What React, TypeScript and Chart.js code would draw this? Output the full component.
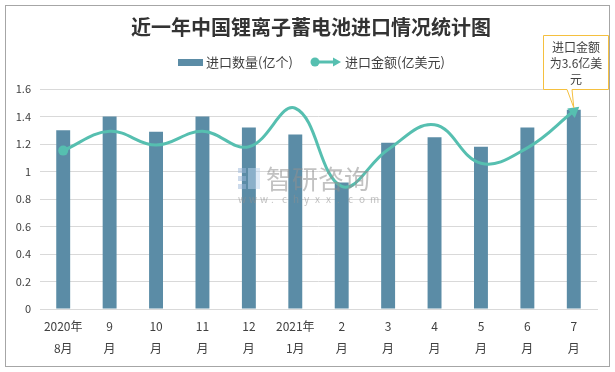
import React, { useEffect, useRef } from 'react';
import { Chart, registerables } from 'chart.js';
Chart.register(...registerables);

const categories: string[][] = [
  ['2020年', '8月'], ['9', '月'], ['10', '月'], ['11', '月'], ['12', '月'],
  ['2021年', '1月'], ['2', '月'], ['3', '月'], ['4', '月'], ['5', '月'], ['6', '月'], ['7', '月'],
];
const quantity = [1.30, 1.40, 1.29, 1.40, 1.32, 1.27, 0.92, 1.21, 1.25, 1.18, 1.32, 1.45];
const amount = [2.88, 3.23, 2.98, 3.23, 2.95, 3.65, 2.23, 2.9, 3.35, 2.65, 2.93, 3.6];
const quantityLabel = '进口数量(亿个)';
const amountLabel = '进口金额(亿美元)';
const title = '近一年中国锂离子蓄电池进口情况统计图';
const calloutLines = ['进口金额', '为3.6亿美', '元'];

const BAR = '#5b8ca6';
const LINE = '#56bfb0';
const FONT = '"Noto Sans CJK SC", "Noto Sans", sans-serif';

const decor = {
  id: 'decor',
  beforeDraw(chart: any) {
    const ctx = chart.ctx;
    ctx.save();
    ctx.fillStyle = '#ffffff';
    ctx.fillRect(0, 0, chart.width, chart.height);
    ctx.strokeStyle = '#a6a6a6';
    ctx.lineWidth = 1;
    ctx.strokeRect(5.5, 5.5, 604, 361);
    ctx.restore();
  },
  afterDatasetsDraw(chart: any) {
    const ctx = chart.ctx;
    ctx.save();
    ctx.globalAlpha = 0.5;
    ctx.fillStyle = '#9bb7d9';
    ctx.fillRect(238, 168, 8, 5);
    ctx.fillRect(238, 176, 8, 5);
    ctx.fillRect(238, 184, 8, 5);
    ctx.fillStyle = '#b9d3ee';
    ctx.fillRect(248, 168, 12, 21);
    ctx.globalAlpha = 0.55;
    ctx.fillStyle = '#8f8f8f';
    ctx.font = `26px ${FONT}`;
    ctx.textBaseline = 'middle';
    ctx.textAlign = 'left';
    ctx.fillText('智研咨询', 266, 179);
    ctx.font = `10px ${FONT}`;
    const w = 'www.chyxx.com';
    for (let i = 0; i < w.length; i++) ctx.fillText(w[i], 238 + i * 11, 199);
    ctx.restore();
  },
  afterDraw(chart: any) {
    const ctx = chart.ctx;
    ctx.save();
    // title
    ctx.fillStyle = '#333333';
    ctx.font = `bold 20px ${FONT}`;
    ctx.textAlign = 'center';
    ctx.textBaseline = 'middle';
    ctx.fillText(title, 311, 27);
    // legend
    ctx.font = `13px ${FONT}`;
    ctx.textAlign = 'left';
    ctx.fillStyle = BAR;
    ctx.fillRect(178, 59, 25, 7);
    ctx.fillStyle = '#404040';
    ctx.fillText(quantityLabel, 206, 62);
    ctx.strokeStyle = LINE;
    ctx.lineWidth = 3;
    ctx.beginPath();
    ctx.moveTo(314, 62);
    ctx.lineTo(334, 62);
    ctx.stroke();
    ctx.fillStyle = LINE;
    ctx.beginPath();
    ctx.arc(315, 62, 4.5, 0, Math.PI * 2);
    ctx.fill();
    ctx.beginPath();
    ctx.moveTo(341, 62);
    ctx.lineTo(333, 57.5);
    ctx.lineTo(333, 66.5);
    ctx.closePath();
    ctx.fill();
    ctx.fillStyle = '#404040';
    ctx.fillText(amountLabel, 345, 62);
    // callout
    const meta = chart.getDatasetMeta(1);
    const last = meta.data[meta.data.length - 1];
    const tx = last.x;
    const ty = last.y;
    const bx = 543.5, by = 35.5, bw = 65, bh = 54;
    ctx.fillStyle = '#ffffff';
    ctx.strokeStyle = '#f5c03f';
    ctx.lineWidth = 1;
    ctx.beginPath();
    ctx.moveTo(bx, by);
    ctx.lineTo(bx + bw, by);
    ctx.lineTo(bx + bw, by + bh);
    ctx.lineTo(572, by + bh);
    ctx.lineTo(tx, ty - 2);
    ctx.lineTo(567, by + bh);
    ctx.lineTo(bx, by + bh);
    ctx.closePath();
    ctx.fill();
    ctx.stroke();
    ctx.fillStyle = '#404040';
    ctx.font = `12px ${FONT}`;
    ctx.textAlign = 'center';
    calloutLines.forEach((l, i) => ctx.fillText(l, bx + bw / 2, by + 12 + i * 16));
    ctx.restore();
  },
};

export default function App() {
  const ref = useRef<HTMLCanvasElement>(null);
  useEffect(() => {
    const last = amount.length - 1;
    const chart = new Chart(ref.current as HTMLCanvasElement, {
      type: 'bar',
      data: {
        labels: categories,
        datasets: [
          {
            type: 'line',
            label: amountLabel,
            data: amount,
            yAxisID: 'y1',
            borderColor: LINE,
            backgroundColor: LINE,
            borderWidth: 3,
            tension: 0.4,
            pointRadius: amount.map((_, i) => (i === 0 ? 5 : i === last ? 7 : 0)),
            pointStyle: amount.map((_, i) => (i === last ? 'triangle' : 'circle')) as any,
            pointRotation: amount.map((_, i) => (i === last ? 52 : 0)),
            pointBorderWidth: 0,
            pointBackgroundColor: LINE,
            order: 0,
          } as any,
          {
            type: 'bar',
            label: quantityLabel,
            data: quantity,
            yAxisID: 'y',
            backgroundColor: BAR,
            barPercentage: 0.3,
            categoryPercentage: 1,
            order: 1,
          },
        ],
      },
      options: {
        responsive: false,
        animation: false,
        events: [],
        layout: { padding: { top: 89, right: 18, bottom: 8, left: 0 } },
        plugins: { legend: { display: false }, title: { display: false }, tooltip: { enabled: false } },
        scales: {
          x: {
            grid: { display: false, drawTicks: false },
            border: { color: '#d9d9d9' },
            ticks: {
              color: '#404040',
              font: { family: FONT, size: 12, lineHeight: 1.8 },
              maxRotation: 0,
              autoSkip: false,
              padding: 7,
            },
            afterFit: (s: any) => { s.height = 55; },
          },
          y: {
            min: 0,
            max: 1.6,
            grid: { color: '#d9d9d9', drawTicks: false },
            border: { display: false },
            ticks: {
              stepSize: 0.2,
              color: '#404040',
              font: { family: FONT, size: 11 },
              padding: 9,
              callback: (v: any) => String(Number(Number(v).toFixed(1))),
            },
            afterFit: (s: any) => { s.width = 40; },
          },
          y1: {
            display: false,
            min: 0,
            max: 4,
          },
        },
      },
      plugins: [decor],
    });
    return () => chart.destroy();
  }, []);
  return (
    <div style={{ position: 'fixed', left: 0, top: 0, width: 615, height: 372, background: '#fff' }}>
      <canvas ref={ref} width={615} height={372} style={{ width: 615, height: 372, display: 'block' }} />
    </div>
  );
}
